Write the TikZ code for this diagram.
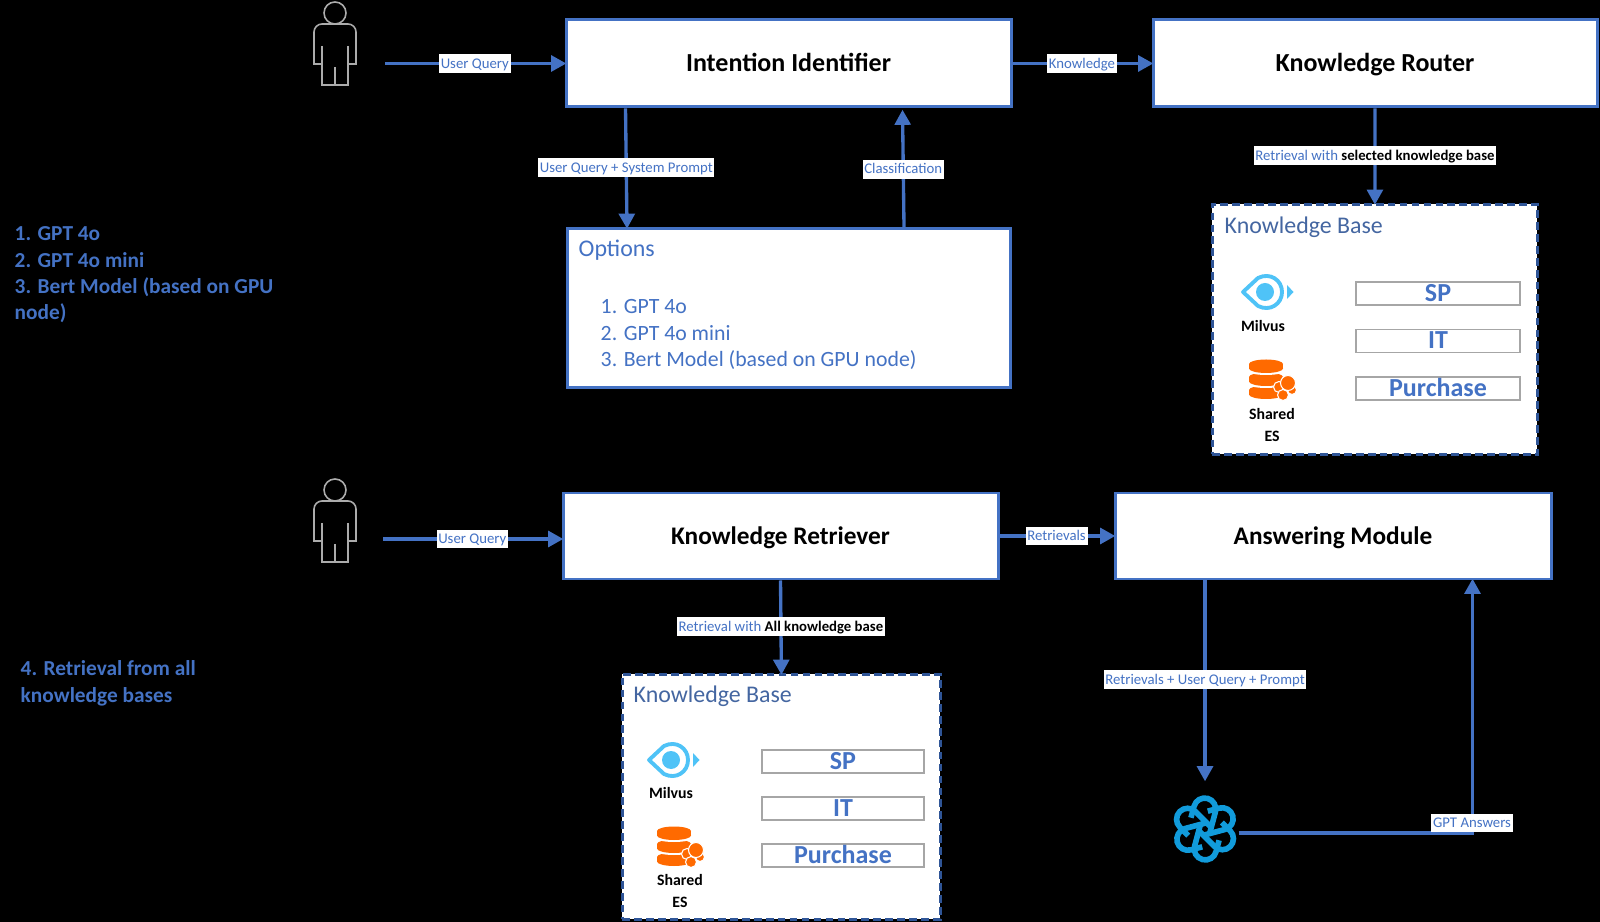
\documentclass[tikz,border=0pt]{standalone}
\usepackage{fontspec}
\setmainfont{Carlito}
\usetikzlibrary{arrows.meta}
\definecolor{flowblue}{HTML}{4472C4}
\definecolor{kbblue}{HTML}{2F5597}
\definecolor{eyeblue}{HTML}{4FC3F7}
\definecolor{esorange}{HTML}{FF6A00}
\definecolor{gptblue}{HTML}{119BDB}
\tikzset{
  box/.style={draw=flowblue,fill=white,line width=0.85pt,text height=5pt,text depth=0.4pt,font=\fontsize{7.4}{8}\selectfont\bfseries,text=black},
  flow/.style={draw=flowblue,line width=0.95pt,shorten >=-0.5pt,->,>={Triangle[length=4.3pt,width=4.5pt]}},
  tag/.style={fill=white,text=flowblue,inner xsep=0.5pt,inner ysep=0.65pt,text height=3.4pt,text depth=0.7pt,font=\fontsize{4.2}{5}\selectfont},
  kbase/.style={draw=kbblue,fill=white,line width=0.8pt,dashed,dash pattern=on 2.2pt off 1.2pt,anchor=north west},
  kbslot/.style={draw=gray!70,fill=white,line width=0.5pt,inner sep=0pt,text height=4.7pt,text depth=0.3pt,text=flowblue,font=\fontsize{7.4}{8}\selectfont\bfseries},
  kbname/.style={anchor=west,inner sep=0pt,text=kbblue!90,font=\fontsize{6.8}{8}\selectfont},
  dbname/.style={inner sep=0pt,align=center,text=black,font=\fontsize{4.5}{5.5}\selectfont\bfseries},
  note/.style={anchor=north west,inner sep=0pt,align=left,text=flowblue,font=\fontsize{6.07}{7.5}\selectfont\bfseries},
  person/.pic={
    \draw[gray!65,line width=0.45pt] (0,0) circle (0.11);
    \draw[gray!65,line width=0.45pt] (-0.13,0.51)--(-0.21,0.51) [rounded corners=0.08cm] --(-0.21,0.11)--(0.21,0.11) [sharp corners] --(0.21,0.51)--(0.13,0.51)--(0.13,0.72)--(-0.13,0.72)--cycle;
    \draw[gray!65,line width=0.45pt] (-0.13,0.33)--(-0.13,0.51) (0.13,0.33)--(0.13,0.51) (0,0.54)--(0,0.72);
  },
  milvus/.pic={
    \draw[eyeblue,line width=1.1pt,line join=round] (-0.22,0)--(-0.07,-0.14) .. controls (0.05,-0.2) and (0.17,-0.12) .. (0.17,0) .. controls (0.17,0.12) and (0.05,0.2) .. (-0.07,0.14)--cycle;
    \fill[eyeblue] (0,0) circle (0.09);
    \fill[eyeblue] (0.22,-0.07)--(0.285,0)--(0.22,0.07)--cycle;
  },
  sharedes/.pic={
    \foreach \y in {0.1,-0.03,-0.16}{
      \fill[white] (-0.06,\y+0.065) ellipse (0.19 and 0.045);
      \fill[esorange] (-0.06,\y+0.045) ellipse (0.17 and 0.045);
      \fill[esorange] (-0.23,\y)rectangle(0.11,\y+0.045);
      \fill[esorange] (-0.06,\y) ellipse (0.17 and 0.045);
    }
    \foreach \x/\y/\r in {0.07/0.07/0.055,0.2/0.1/0.045,0.11/0.15/0.055,0.16/0.03/0.075}
      \draw[white,fill=esorange,line width=0.3pt] (\x,\y) circle (\r);
  },
  gptknot/.pic={
    \foreach \a in {0,60,...,300}
      \draw[gptblue,line width=1.6pt,rotate=\a-15] (-0.17,-0.098)--(-0.17,0.58) .. controls (-0.17,0.765) and (-0.02,0.915) .. (0.165,0.915) .. controls (0.35,0.915) and (0.5,0.765) .. (0.5,0.58)--(0.5,0.22);
  },
}
\begin{document}
\begin{tikzpicture}[y=-1cm]
  \useasboundingbox (0,0) rectangle (16,9.22);
  \fill[black] (0,0) rectangle (16,9.22);

  % upper row
  \pic at (3.35,0.13) {person};
  \coordinate (querytop) at (3.85,0.635);
  \node (intent) [box,minimum width=4.45cm,minimum height=0.87cm] at (7.885,0.635) {Intention Identifier};
  \node (router) [box,minimum width=4.44cm,minimum height=0.87cm] at (13.75,0.635) {Knowledge Router};
  \node (options) [box,anchor=north west,minimum width=4.43cm,minimum height=1.59cm] at (5.66,2.27) {};
  \node (optname) [kbname,text=flowblue] at (5.78,2.50) {Options};
  \node (optlist) [anchor=north west,inner sep=0pt,align=left,text=flowblue,font=\fontsize{6.2}{7.5}\selectfont] at (6.00,2.99) {1. GPT 4o\\2. GPT 4o mini\\3. Bert Model (based on GPU node)};

  \draw[flow] (querytop)-- node (tagquery) [tag] {User Query} (querytop-|intent.west);
  \draw[flow] (intent.east)-- node (tagknow) [tag] {Knowledge} (router.west);
  \draw[flow] ([xshift=0.61cm]intent.south west)-- node (tagprompt) [tag] {User Query + System Prompt} ([xshift=0.61cm]options.north west);
  \draw[flow] ([xshift=3.38cm]options.north west)-- node (tagclass) [tag] {Classification} ([xshift=3.38cm,yshift=-0.03cm]intent.south west);

  % first knowledge base
  \node (kbup) [kbase,minimum width=3.25cm,minimum height=2.5cm] at (12.11,2.03) {};
  \draw[flow] (router.south)-- node (tagselect) [tag] {Retrieval with \textcolor{black}{\textbf{selected knowledge base}}} (kbup.north);
  \node (kbupname) [kbname] at (12.24,2.27) {Knowledge Base};
  \pic at (12.65,2.92) {milvus};
  \node (milvusup) [dbname] at (12.63,3.26) {Milvus};
  \pic at (12.72,3.80) {sharedes};
  \node (esup) [dbname] at (12.72,4.25) {Shared\\[0.6pt]ES};
  \node (spup) [kbslot,minimum width=1.64cm,minimum height=0.23cm] at (14.38,2.935) {SP};
  \node (itup) [kbslot,minimum width=1.64cm,minimum height=0.23cm] at (14.38,3.41) {IT};
  \node (buyup) [kbslot,minimum width=1.64cm,minimum height=0.23cm] at (14.38,3.885) {Purchase};

  % lower row
  \pic at (3.35,4.90) {person};
  \coordinate (querylow) at (3.83,5.39);
  \node (retriever) [box,font=\fontsize{7.2}{8}\selectfont\bfseries,minimum width=4.35cm,minimum height=0.86cm] at (7.805,5.36) {Knowledge Retriever};
  \node (answer) [box,font=\fontsize{7.2}{8}\selectfont\bfseries,minimum width=4.36cm,minimum height=0.86cm] at (13.33,5.36) {Answering Module};
  \draw[flow] (querylow)-- node (tagquerylow) [tag] {User Query} (querylow-|retriever.west);
  \draw[flow] (retriever.east)-- node (tagretr) [tag] {Retrievals} (answer.west);

  % second knowledge base
  \node (kblow) [kbase,minimum width=3.18cm,minimum height=2.45cm] at (6.21,6.73) {};
  \draw[flow] (retriever.south)-- node (tagall) [tag] {Retrieval with \textcolor{black}{\textbf{All knowledge base}}} (kblow.north);
  \node (kblowname) [kbname] at (6.33,6.96) {Knowledge Base};
  \pic at (6.71,7.60) {milvus};
  \node (milvuslow) [dbname] at (6.71,7.93) {Milvus};
  \pic at (6.80,8.47) {sharedes};
  \node (eslow) [dbname] at (6.80,8.91) {Shared\\[0.6pt]ES};
  \node (splow) [kbslot,minimum width=1.62cm,minimum height=0.23cm] at (8.43,7.615) {SP};
  \node (itlow) [kbslot,minimum width=1.62cm,minimum height=0.23cm] at (8.43,8.085) {IT};
  \node (buylow) [kbslot,minimum width=1.62cm,minimum height=0.23cm] at (8.43,8.555) {Purchase};

  % answer loop
  \node (gpt) [circle,inner sep=0pt,minimum size=0.66cm] at (12.05,8.29) {};
  \pic at (gpt) [scale=0.33] {gptknot};
  \draw[flow,shorten >=0.14cm] (answer.south-|gpt.north)-- node[pos=0.46] (tagmix) [tag] {Retrievals + User Query + Prompt} (gpt.north);
  \draw[flow] ([yshift=-0.04cm]gpt.east)-| ([xshift=3.59cm]answer.south west);
  \node (taggpt) [tag] at (14.72,8.23) {GPT Answers};

  % side notes
  \node (noteup) [note] at (0.14,2.26) {1. GPT 4o\\2. GPT 4o mini\\3. Bert Model (based on GPU\\node)};
  \node (notelow) [note] at (0.2,6.6) {4. Retrieval from all\\knowledge bases};
\end{tikzpicture}
\end{document}
